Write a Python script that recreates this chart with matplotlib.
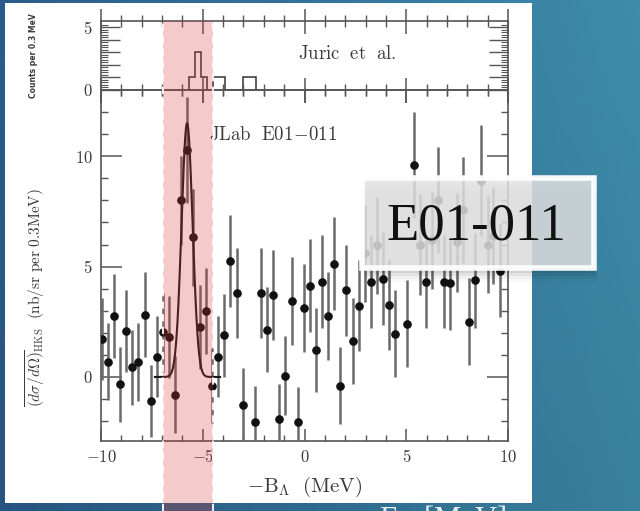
import numpy as np
import matplotlib
matplotlib.use("Agg")
import matplotlib.pyplot as plt
from matplotlib.patches import Rectangle
from matplotlib.lines import Line2D
import matplotlib.transforms as mtransforms

plt.rcParams["mathtext.fontset"] = "cm"
plt.rcParams["font.family"] = ["DejaVu Serif"]

# ---------------- data ----------------
# JLab E01-011 spectrum: -B_Lambda (MeV), cross section, error
be_x = [-9.97, -9.67, -9.35, -9.05, -8.76, -8.46, -8.17, -7.85, -7.54, -7.25,
        -6.94, -6.66, -6.36, -6.07, -5.76, -5.46, -5.13, -4.84, -4.56, -4.24,
        -3.94, -3.66, -3.34, -3.04, -2.43, -2.15, -1.84, -1.53, -1.25, -0.94,
        -0.63, -0.34, -0.02, 0.27, 0.57, 0.86, 1.17, 1.46, 1.76, 2.05,
        2.37, 2.66, 2.96, 3.28, 3.55, 3.87, 4.17, 4.46, 5.05, 5.40,
        5.68, 5.95, 6.26, 6.54, 6.87, 7.16, 7.48, 7.80, 8.08, 8.38,
        8.67, 9.00, 9.26, 9.59]
xsec = [1.72, 0.69, 2.77, -0.33, 2.07, 0.44, 0.68, 2.82, -1.09, 0.92,
        2.02, 1.82, -0.80, 8.00, 10.30, 6.32, 2.28, 3.00, -0.39, 0.92,
        1.88, 5.26, 3.81, -1.27, -2.02, 3.81, 2.15, 3.71, -1.91, 0.06,
        3.44, -2.04, 3.12, 4.13, 1.22, 4.31, 2.76, 5.14, -0.39, 3.92,
        1.64, 3.23, 5.60, 4.31, 5.97, 4.45, 3.26, 1.96, 2.41, 9.60,
        6.00, 4.31, 6.20, 8.00, 4.31, 4.24, 6.10, 7.55, 2.50, 4.39,
        8.90, 6.00, 6.40, 4.81]
xsec_err = [1.85, 1.75, 1.90, 1.70, 1.85, 1.70, 1.77, 1.93, 1.64, 1.83,
            1.80, 1.85, 1.75, 2.00, 2.40, 2.20, 1.90, 1.95, 1.70, 1.83,
            1.90, 2.10, 2.05, 1.66, 1.60, 2.05, 1.93, 2.05, 1.60, 1.80,
            2.00, 1.60, 2.00, 2.10, 1.90, 2.10, 2.00, 2.10, 1.75, 2.05,
            1.95, 2.05, 2.20, 2.10, 2.20, 2.10, 2.05, 1.97, 1.97, 2.40,
            2.30, 2.10, 2.20, 2.40, 2.10, 2.10, 2.24, 2.40, 1.97, 2.15,
            2.50, 2.20, 2.20, 2.10]

# Fitted peak (Gaussian) parameters
fit_amp, fit_mu, fit_sigma = 11.5, -5.77, 0.27
fit_range = (-7.35, -4.15)

# Juric et al. emulsion histogram (counts per 0.3 MeV)
juric_edges = [-5.7, -5.4, -5.1, -4.8, -4.5, -4.2, -3.9, -3.6, -3.3, -3.0, -2.7, -2.4]
juric_counts = [1, 3, 1, 0, 1, 1, 0, 0, 0, 1, 1]

band = (-6.95, -4.50)

x_ticks = [-10, -5, 0, 5, 10]
x_ticklabels = [r"$-10$", r"$-5$", r"$0$", r"$5$", r"$10$"]
y_ticks = [0, 5, 10]
y_ticklabels = [r"$0$", r"$5$", r"$10$"]

# ---------------- figure ----------------
W, H = 640, 511
fig = plt.figure(figsize=(6.4, 5.11), dpi=100)

def fx(px):
    return px / W

def fy(py):
    return 1 - py / H

# background gradient
bg = fig.add_axes([0, 0, 1, 1])
bg.set_zorder(-3)
bg.set_axis_off()
nx, ny = 200, 60
u = np.linspace(0, 1, nx)[None, :, None]
v = np.linspace(0, 1, ny)[:, None, None]
c_left = np.array([0.17, 0.36, 0.55])
c_right = np.array([0.24, 0.55, 0.67])
img = c_left * (1 - u) + c_right * u
img = img * (1 - 0.08 * v)
bg.imshow(np.clip(img, 0, 1), extent=[0, 1, 0, 1], aspect="auto", origin="upper")
bg.set_xlim(0, 1)
bg.set_ylim(0, 1)

# white panel
fig.add_artist(Rectangle((fx(5), fy(503)), fx(532) - fx(5), fy(3) - fy(503),
                         transform=fig.transFigure, facecolor="white",
                         edgecolor="none", zorder=-2))

ink = "#3a3a3a"
tick_col = "#555555"

# main axes
ax = fig.add_axes([fx(101), fy(441), fx(508) - fx(101), fy(90) - fy(441)])
ax.set_facecolor("none")
ax.set_xlim(-10, 10)
ax.set_ylim(-2.9, 13.0)
for s in ax.spines.values():
    s.set_color(tick_col)
    s.set_linewidth(1.2)

ax.errorbar(be_x, xsec, yerr=xsec_err, fmt="o", color="#111111",
            ecolor="#6a6a6a", elinewidth=1.8, markersize=5.2, capsize=0, zorder=3)
xf = np.linspace(fit_range[0], fit_range[1], 400)
yf = fit_amp * np.exp(-0.5 * ((xf - fit_mu) / fit_sigma) ** 2)
ax.plot(xf, yf, color="#1a1a1a", lw=1.5, zorder=4)

ax.set_xticks(x_ticks)
ax.set_xticklabels(x_ticklabels)
ax.set_xticks(np.arange(-10, 11, 1), minor=True)
ax.set_yticks(y_ticks)
ax.set_yticklabels(y_ticklabels)
ax.set_yticks(np.arange(-2, 13, 1), minor=True)
ax.tick_params(axis="x", which="major", direction="in", length=9, width=1.1,
               top=True, bottom=True, colors=tick_col, labelcolor=ink,
               labelsize=12, pad=6)
ax.tick_params(axis="x", which="minor", direction="in", length=4, width=1.0,
               top=True, bottom=True, colors=tick_col)
ax.tick_params(axis="y", which="major", direction="in", length=15, width=1.1,
               left=True, right=True, colors=tick_col, labelcolor=ink,
               labelsize=12, pad=6)
ax.tick_params(axis="y", which="minor", direction="in", length=5, width=1.0,
               left=True, right=True, colors=tick_col)

ax.set_xlabel(r"$-{\rm B}_{\Lambda}\ \ {\rm (MeV)}$", fontsize=15, color=ink, labelpad=6)
ax.set_ylabel(r"$\overline{(d\sigma/d\Omega)}_{\rm HKS}\ \ {\rm (nb/sr\ per\ 0.3MeV)}$",
              fontsize=11, color=ink)
ax.yaxis.set_label_coords(-0.13, 0.41)
ax.text(0.265, 0.872, r"${\rm JLab\ \ E01\!-\!011}$", transform=ax.transAxes,
        fontsize=13.5, color=ink, va="center", ha="left")

# top histogram axes
axt = fig.add_axes([fx(101), fy(90), fx(508) - fx(101), fy(21) - fy(90)])
axt.set_facecolor("none")
axt.set_xlim(-10, 10)
axt.set_ylim(0, 5.48)
for s in axt.spines.values():
    s.set_color(tick_col)
    s.set_linewidth(1.2)
axt.stairs(juric_counts, juric_edges, color="#333333", lw=1.1, baseline=0)
axt.set_xticks(x_ticks)
axt.set_xticklabels([])
axt.set_xticks(np.arange(-10, 11, 1), minor=True)
axt.set_yticks([0, 1, 2, 3, 4, 5])
axt.set_yticklabels([r"$0$", "", "", "", "", r"$5$"])
axt.set_yticks(np.arange(0, 5.4, 0.2), minor=True)
axt.tick_params(axis="x", which="major", direction="inout", length=18, width=1.1,
                top=True, bottom=True, colors=tick_col)
axt.tick_params(axis="x", which="minor", direction="inout", length=9, width=1.0,
                top=True, bottom=True, colors=tick_col)
axt.tick_params(axis="y", which="major", direction="in", length=14, width=1.0,
                left=True, right=True, colors=tick_col, labelcolor=ink,
                labelsize=12, pad=6)
axt.tick_params(axis="y", which="minor", direction="in", length=5, width=0.8,
                left=True, right=True, colors=tick_col)
axt.set_ylabel("Counts per 0.3 MeV", fontsize=5.5, fontweight="bold",
               color=ink, family="DejaVu Sans")
axt.yaxis.set_label_coords(-0.155, 0.5)
axt.text(0.483, 0.52, r"${\rm Juric\ \ et\ \ al.}$", transform=axt.transAxes,
         fontsize=13.5, color=ink, va="center", ha="left")

# highlighted band (spans both panels and runs off the bottom)
trans = mtransforms.blended_transform_factory(ax.transData, fig.transFigure)
fig.add_artist(Rectangle((band[0], 0), band[1] - band[0], fy(21), transform=trans,
                         facecolor=(0.85, 0.2, 0.2, 0.26), edgecolor="none", zorder=5))
for bx in band:
    fig.add_artist(Line2D([bx, bx], [0, fy(21)], transform=trans, color="white",
                          lw=1.3, ls=(0, (4, 3)), zorder=5.1))

# E01-011 call-out box with soft shadow
for i, a in enumerate([0.09, 0.07, 0.05, 0.035, 0.025]):
    off = 2 + 3 * i
    fig.add_artist(Rectangle((fx(362 + off * 0.3), fy(268 + off)),
                             fx(594) - fx(362), fy(178) - fy(268),
                             transform=fig.transFigure, facecolor=(0, 0, 0, a),
                             edgecolor="none", zorder=9))
fig.add_artist(Rectangle((fx(362), fy(268)), fx(594) - fx(362), fy(178) - fy(268),
                         transform=fig.transFigure, facecolor=(0.91, 0.91, 0.91, 0.82),
                         edgecolor=(1, 1, 1, 0.95), lw=4, zorder=10))
fig.text(fx(476), fy(240), "E01-011", family="Liberation Serif", fontsize=38,
         ha="center", va="baseline", color="#111111", zorder=11)

# partially visible slide axis label at the bottom
fig.text(fx(443), fy(504), r"E$_\Lambda$ [MeV]", family="Liberation Serif",
         fontsize=22, ha="center", va="top", color="#e6eef2", zorder=11)

fig.savefig("out.png", dpi=100)
